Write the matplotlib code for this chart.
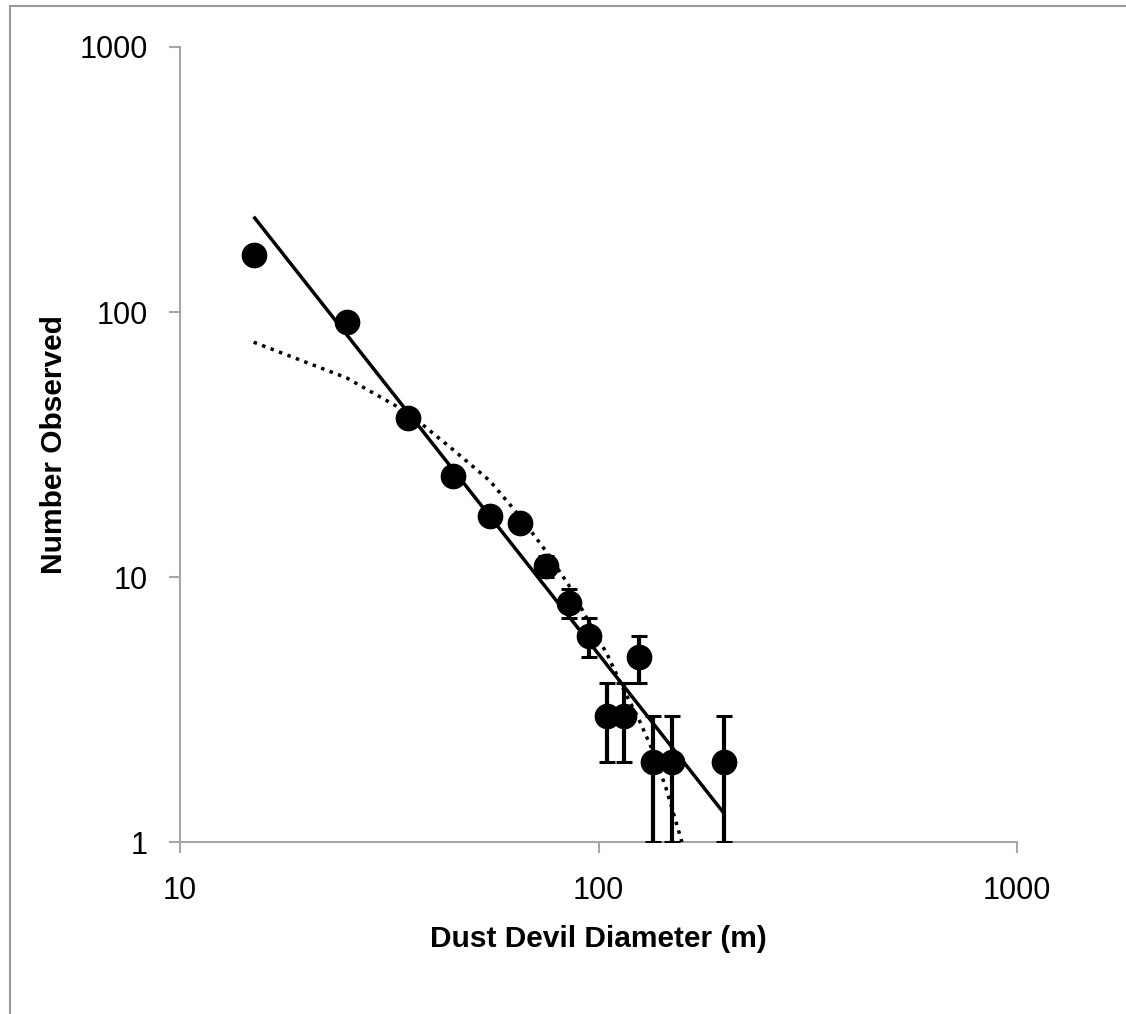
import matplotlib
matplotlib.use("Agg")
import matplotlib.pyplot as plt
from matplotlib.lines import Line2D
from matplotlib.ticker import FixedLocator, FixedFormatter, NullLocator

# ---- data ----
diameter = [15, 25, 35, 45, 55, 65, 75, 85, 95, 105, 115, 125, 135, 150, 200]
observed = [164, 92, 40, 24, 17, 16, 11, 8, 6, 3, 3, 5, 2, 2, 2]
obs_err = [1, 1, 1, 1, 1, 1, 1, 1, 1, 1, 1, 1, 1, 1, 1]

fit_x = [15, 200]
fit_y = [229, 1.28]

model_x = [15, 25, 35, 45, 55, 65, 75, 85, 95, 105, 115, 125, 135, 145, 155, 165]
model_y = [77, 56.5, 41.8, 30.2, 23.1, 16.9, 12.5, 9.3, 6.75, 5.1, 3.75, 2.9, 2.2, 1.6, 1.12, 0.8]

x_ticks = [10, 100, 1000]
x_tick_labels = ["10", "100", "1000"]
y_ticks = [1, 10, 100, 1000]
y_tick_labels = ["1", "10", "100", "1000"]

x_label = "Dust Devil Diameter (m)"
y_label = "Number Observed"

# ---- figure ----
W, H = 1126, 1014
fig = plt.figure(figsize=(W / 100, H / 100), dpi=100)
ax = fig.add_axes([180 / W, 1 - 842.3 / H, (1017 - 180) / W, (842.3 - 47) / H])

font = ["Liberation Sans", "DejaVu Sans"]
gray = "#a6a6a6"

ax.set_xscale("log")
ax.set_yscale("log")
ax.set_xlim(10, 1000)
ax.set_ylim(1, 1000)

ax.errorbar(diameter, observed, yerr=obs_err, fmt="o", color="black",
            markersize=17.5, elinewidth=3, capsize=6, capthick=2.2, zorder=3)
ax.plot(fit_x, fit_y, color="black", lw=2.5, solid_capstyle="butt", zorder=4)
ax.plot(model_x, model_y, color="black", lw=2.5, linestyle=(0, (1, 1.6)),
        dash_capstyle="butt", zorder=4)

ax.xaxis.set_major_locator(FixedLocator(x_ticks))
ax.xaxis.set_major_formatter(FixedFormatter(x_tick_labels))
ax.yaxis.set_major_locator(FixedLocator(y_ticks))
ax.yaxis.set_major_formatter(FixedFormatter(y_tick_labels))
ax.xaxis.set_minor_locator(NullLocator())
ax.yaxis.set_minor_locator(NullLocator())

for side in ["top", "right"]:
    ax.spines[side].set_visible(False)
for side in ["left", "bottom"]:
    ax.spines[side].set_color(gray)
    ax.spines[side].set_linewidth(1.5)

ax.tick_params(axis="both", which="major", direction="out", length=8,
               width=1.5, color=gray, labelcolor="black")
ax.tick_params(axis="x", pad=16)
ax.tick_params(axis="y", pad=15)
for lab in ax.get_xticklabels() + ax.get_yticklabels():
    lab.set_fontfamily(font)
    lab.set_fontsize(22)

ax.set_xlabel(x_label, fontsize=21.5, fontweight="bold", family=font)
ax.set_ylabel(y_label, fontsize=21.5, fontweight="bold", family=font)
ax.xaxis.set_label_coords(0.5, -0.122)
ax.yaxis.set_label_coords(-0.15, 0.5)
ax.xaxis.label.set_va("center")
ax.yaxis.label.set_va("center")

# chart frame (top and left edges visible)
fig.add_artist(Line2D([10 / W, 10 / W], [0, 1 - 6 / H], transform=fig.transFigure,
                      color="#999999", lw=1.5))
fig.add_artist(Line2D([10 / W, 1], [1 - 6 / H, 1 - 6 / H], transform=fig.transFigure,
                      color="#999999", lw=1.5))

fig.savefig("out.png", dpi=100, facecolor="white")
